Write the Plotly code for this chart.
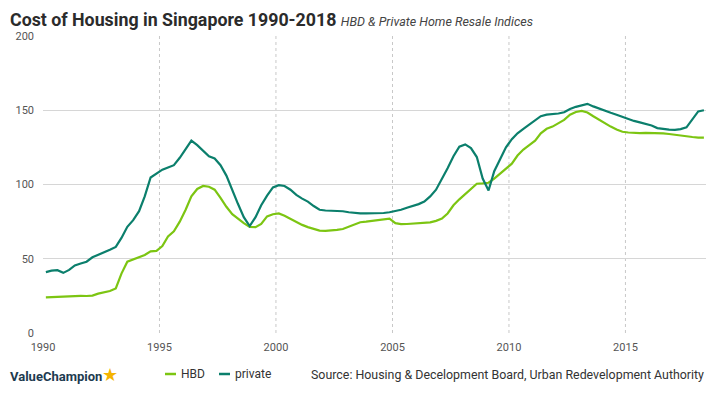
import plotly.graph_objects as go

# Quarterly index values, 1990Q1 .. 2018Q2
years = list(range(1990, 2019))
quarter_months = [2, 5, 8, 11]  # plotted at mid-quarter
quarters = [f"{y}-{m:02d}-15" for y in years for m in quarter_months][:114]

hbd = [
    24.0, 24.2, 24.5, 24.4,      # 1990
    24.5, 25.0, 25.0, 24.9,      # 1991
    25.2, 26.5, 27.5, 28.3,      # 1992
    30.0, 40.0, 48.0, 49.5,      # 1993
    51.0, 52.5, 55.0, 55.3,      # 1994
    58.5, 65.0, 68.5, 75.0,      # 1995
    83.0, 92.0, 97.0, 99.0,      # 1996
    98.5, 96.5, 91.0, 85.0,      # 1997
    80.0, 77.0, 74.0, 71.5,      # 1998
    71.3, 73.5, 78.5, 80.0,      # 1999
    80.5, 79.0, 77.0, 74.5,      # 2000
    72.8, 71.3, 70.0, 69.0,      # 2001
    68.8, 69.0, 69.5, 70.0,      # 2002
    71.5, 73.0, 74.6, 75.0,      # 2003
    75.5, 76.0, 76.5, 77.0,      # 2004
    74.0, 73.3, 73.4, 73.7,      # 2005
    74.0, 74.3, 74.5, 75.5,      # 2006
    77.0, 80.5, 86.0, 90.0,      # 2007
    93.5, 97.5, 100.5, 100.8,    # 2008
    101.2, 104.0, 107.5, 110.5,  # 2009
    114.0, 119.5, 123.5, 126.5,  # 2010
    129.5, 134.5, 137.5, 139.0,  # 2011
    141.0, 143.5, 147.0, 148.8,  # 2012
    149.6, 148.5, 146.0, 143.5,  # 2013
    141.0, 139.0, 137.0, 135.5,  # 2014
    135.0, 134.6, 134.6, 134.8,  # 2015
    134.8, 134.6, 134.4, 134.0,  # 2016
    133.4, 133.0, 132.5, 132.0,  # 2017
    131.6, 131.6,                # 2018
]

private = [
    41.0, 42.0, 42.3, 40.5,      # 1990
    42.5, 45.5, 46.8, 48.0,      # 1991
    51.0, 52.5, 54.5, 56.0,      # 1992
    58.0, 64.0, 71.5, 76.0,      # 1993
    82.0, 92.0, 104.7, 107.5,    # 1994
    110.0, 111.5, 113.0, 118.0,  # 1995
    124.0, 129.5, 126.5, 123.0,  # 1996
    119.0, 117.5, 113.0, 106.0,  # 1997
    96.0, 87.0, 78.0, 72.0,      # 1998
    78.0, 86.0, 92.5, 98.0,      # 1999
    99.5, 99.0, 96.5, 93.0,      # 2000
    90.5, 88.5, 85.5, 83.0,      # 2001
    82.5, 82.3, 82.3, 82.0,      # 2002
    81.3, 80.8, 80.5, 80.5,      # 2003
    80.5, 80.5, 80.8, 81.3,      # 2004
    82.0, 83.0, 84.3, 85.5,      # 2005
    86.8, 88.5, 92.0, 96.5,      # 2006
    103.5, 111.0, 119.0, 125.5,  # 2007
    127.0, 124.5, 118.5, 104.0,  # 2008
    96.0, 109.0, 117.0, 125.0,   # 2009
    130.5, 134.5, 137.5, 140.5,  # 2010
    143.5, 146.0, 147.0, 147.3,  # 2011
    147.8, 148.6, 150.8, 152.3,  # 2012
    153.5, 154.3, 152.6, 151.0,  # 2013
    149.6, 148.3, 147.0, 145.5,  # 2014
    144.3, 142.8, 141.8, 140.8,  # 2015
    139.7, 138.0, 137.3, 137.0,  # 2016
    136.8, 137.3, 138.5, 143.5,  # 2017
    149.2, 150.0,                # 2018
]

series_names = ["HBD", "private"]
series_colors = ["#7cc512", "#0b7f6c"]
x_tick_vals = ["1990-01-01", "1995-01-01", "2000-01-01", "2005-01-01", "2010-01-01", "2015-01-01"]
x_tick_text = ["1990", "1995", "2000", "2005", "2010", "2015"]
y_tick_vals = [0, 50, 100, 150, 200]

TICK_FONT = dict(family="Roboto, Liberation Sans, sans-serif", size=11, color="#555555")

# The page body has an 8px margin, so screen position = figure position + 8.
OFF = 8
W, H = 720, 396
PLOT_L, PLOT_R, PLOT_T, PLOT_B = 43, 706, 36, 333   # screen pixels of the plot area
L = PLOT_L - OFF
T = PLOT_T - OFF
R = W - (PLOT_R - OFF)
B = H - (PLOT_B - OFF)
PW, PH = PLOT_R - PLOT_L, PLOT_B - PLOT_T


def px(xs):
    return (xs - PLOT_L) / PW


def py(ys):
    return (PLOT_B - ys) / PH


fig = go.Figure()
for name, vals, col in zip(series_names, [hbd, private], series_colors):
    fig.add_trace(go.Scatter(x=quarters, y=vals, mode="lines", name=name,
                             line=dict(color=col, width=2.2), showlegend=False))

# vertical dotted year lines (not at the left edge)
for xv in x_tick_vals[1:]:
    fig.add_vline(x=xv, line=dict(color="#c8c8c8", width=1, dash="dot"), layer="below")

fig.update_layout(
    width=W, height=H,
    margin=dict(l=L, r=R, t=T, b=B, autoexpand=False),
    paper_bgcolor="white", plot_bgcolor="white",
    xaxis=dict(type="date", range=["1990-01-01", "2018-06-17"],
               tickvals=x_tick_vals, ticktext=x_tick_text,
               showgrid=False, zeroline=False, showline=False, automargin=False,
               ticks="", tickfont=TICK_FONT, ticklabelstandoff=6),
    yaxis=dict(range=[0, 200], tickvals=y_tick_vals, automargin=False,
               showgrid=True, gridcolor="#d6d6d6", gridwidth=1,
               zeroline=False, showline=False, ticks="",
               tickfont=TICK_FONT, ticklabelstandoff=8),
)

# Title + subtitle
fig.add_annotation(
    xref="paper", yref="paper", x=px(9), y=py(8), xanchor="left", yanchor="top",
    text="<b>Cost of Housing in Singapore 1990-2018</b> "
         "<span style='font-size:12.5px;color:#444'><i>HBD &amp; Private Home Resale Indices</i></span>",
    showarrow=False, align="left", borderpad=0,
    font=dict(family="Roboto, sans-serif", size=17.8, color="#2b2b2b"),
)

# Logo
fig.add_annotation(
    xref="paper", yref="paper", x=px(8), y=py(374), xanchor="left", yanchor="middle",
    text="<b>ValueChampion</b><span style='color:#f4b400;font-size:18px'>★</span>",
    showarrow=False,
    font=dict(family="Roboto, sans-serif", size=13, color="#1d3b50"),
)

# Legend (manual)
leg = [(165, 176, 179), (219, 230, 233)]
for (x0, x1, tx), name, col in zip(leg, series_names, series_colors):
    fig.add_shape(type="line", xref="paper", yref="paper",
                  x0=px(x0), x1=px(x1), y0=py(374), y1=py(374),
                  line=dict(color=col, width=2.5))
    fig.add_annotation(xref="paper", yref="paper", x=px(tx), y=py(374),
                       xanchor="left", yanchor="middle", text=name, showarrow=False,
                       font=dict(family="Roboto, sans-serif", size=12, color="#333333"))

# Source
fig.add_annotation(
    xref="paper", yref="paper", x=px(706), y=py(374), xanchor="right", yanchor="middle",
    text="Source: Housing &amp; Decelopment Board, Urban Redevelopment Authority",
    showarrow=False,
    font=dict(family="Roboto, sans-serif", size=12.4, color="#333333"),
)

fig.write_html("out.html")
